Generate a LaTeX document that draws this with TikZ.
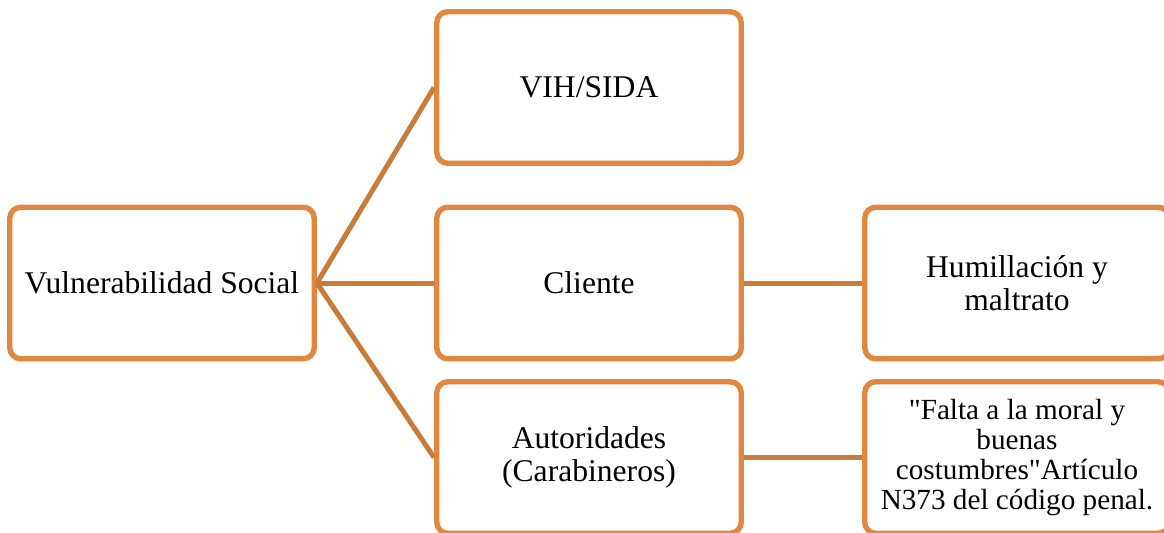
\documentclass[tikz,border=0pt]{standalone}
\usepackage{fontspec}
\setmainfont{Liberation Serif}
\newfontfamily\plainserif{Liberation Serif}
\definecolor{boxor}{RGB}{224,136,66}
\definecolor{lineor}{RGB}{201,123,58}
\begin{document}
\begin{tikzpicture}[x=0.5pt,y=-0.5pt,
  box/.style={draw=boxor, line width=2.7pt, rounded corners=5.5pt, fill=white,
    minimum width=152.25pt, minimum height=75.75pt, align=center, inner sep=0pt,
    font=\fontsize{15.8}{16.6}\selectfont},
  link/.style={draw=lineor, line width=2.5pt}]
\useasboundingbox (0,0) rectangle (1164,532);
\clip (0,0) rectangle (1164,532);
\node[box] (vs) at (162,283) {Vulnerabilidad Social};
\node[box] (vih) at (589,87.5) {VIH/SIDA};
\node[box] (cli) at (589,283) {Cliente};
\node[box] (aut) at (589,457.5) {Autoridades\\(Carabineros)};
\node[box] (hum) at (1017,283) {Humillación y\\maltrato};
\node[box, font=\fontsize{14.6}{15}\plainserif] (fal) at (1017,457.5) {"Falta a la moral y\\buenas\\costumbres"Artículo\\N373 del código penal.};
\draw[link] (vs.east) -- (vih.west);
\draw[link] (vs.east) -- (cli.west);
\draw[link] (vs.east) -- (aut.west);
\draw[link] (cli.east) -- (hum.west);
\draw[link] (aut.east) -- (fal.west);
\end{tikzpicture}
\end{document}
